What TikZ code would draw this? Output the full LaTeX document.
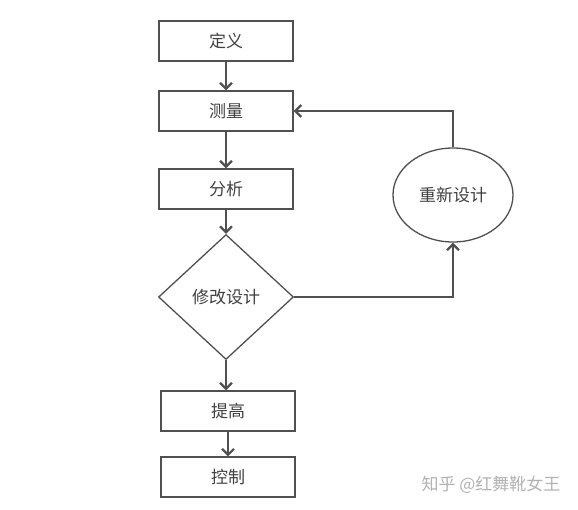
\documentclass[tikz,border=0pt]{standalone}
\usepackage{fontspec}
\setmainfont{Noto Sans CJK SC}
\usetikzlibrary{arrows.meta,shapes.geometric}
\definecolor{ln}{HTML}{505050}
\definecolor{tx}{HTML}{404040}
\begin{document}
\begin{tikzpicture}[x=1pt,y=-1pt,
  lbl/.style={text=tx,font=\fontsize{17}{20}\selectfont},
  box/.style={draw=ln,line width=1.3pt,minimum width=134pt,minimum height=40pt,inner sep=0pt,lbl},
  dia/.style={draw=ln,line width=1.3pt,diamond,minimum width=135pt,minimum height=125pt,inner sep=0pt,lbl},
  ell/.style={draw=ln,line width=1.3pt,ellipse,minimum width=120pt,minimum height=94pt,inner sep=0pt,lbl},
  arr/.style={draw=ln,line width=1.3pt,-{Straight Barb[length=6pt,width=12pt,line width=2.2pt]}}]
\useasboundingbox (0,0) rectangle (578,509);
\node[box] (a) at (226,41) {定义};
\node[box] (b) at (226,111) {测量};
\node[box] (c) at (226,189) {分析};
\node[dia] (d) at (226,297) {修改设计};
\node[box] (e) at (228,411) {提高};
\node[box] (f) at (228,477) {控制};
\node[ell] (g) at (453,195) {重新设计};
\node[text=black!30,font=\fontsize{17}{20}\selectfont,anchor=west] (w) at (418,485) {知乎 @红舞靴女王};
\draw[arr] (a.south) -- (b.north);
\draw[arr] (b.south) -- (c.north);
\draw[arr] (c.south) -- (d.north);
\draw[arr] (d.south) -- (e.north -| d.south);
\draw[arr] (e.south) -- (f.north);
\draw[arr] (d.east) -- (d.east -| g.south) -- (g.south);
\draw[arr] (g.north) |- (b.east);
\end{tikzpicture}
\end{document}
